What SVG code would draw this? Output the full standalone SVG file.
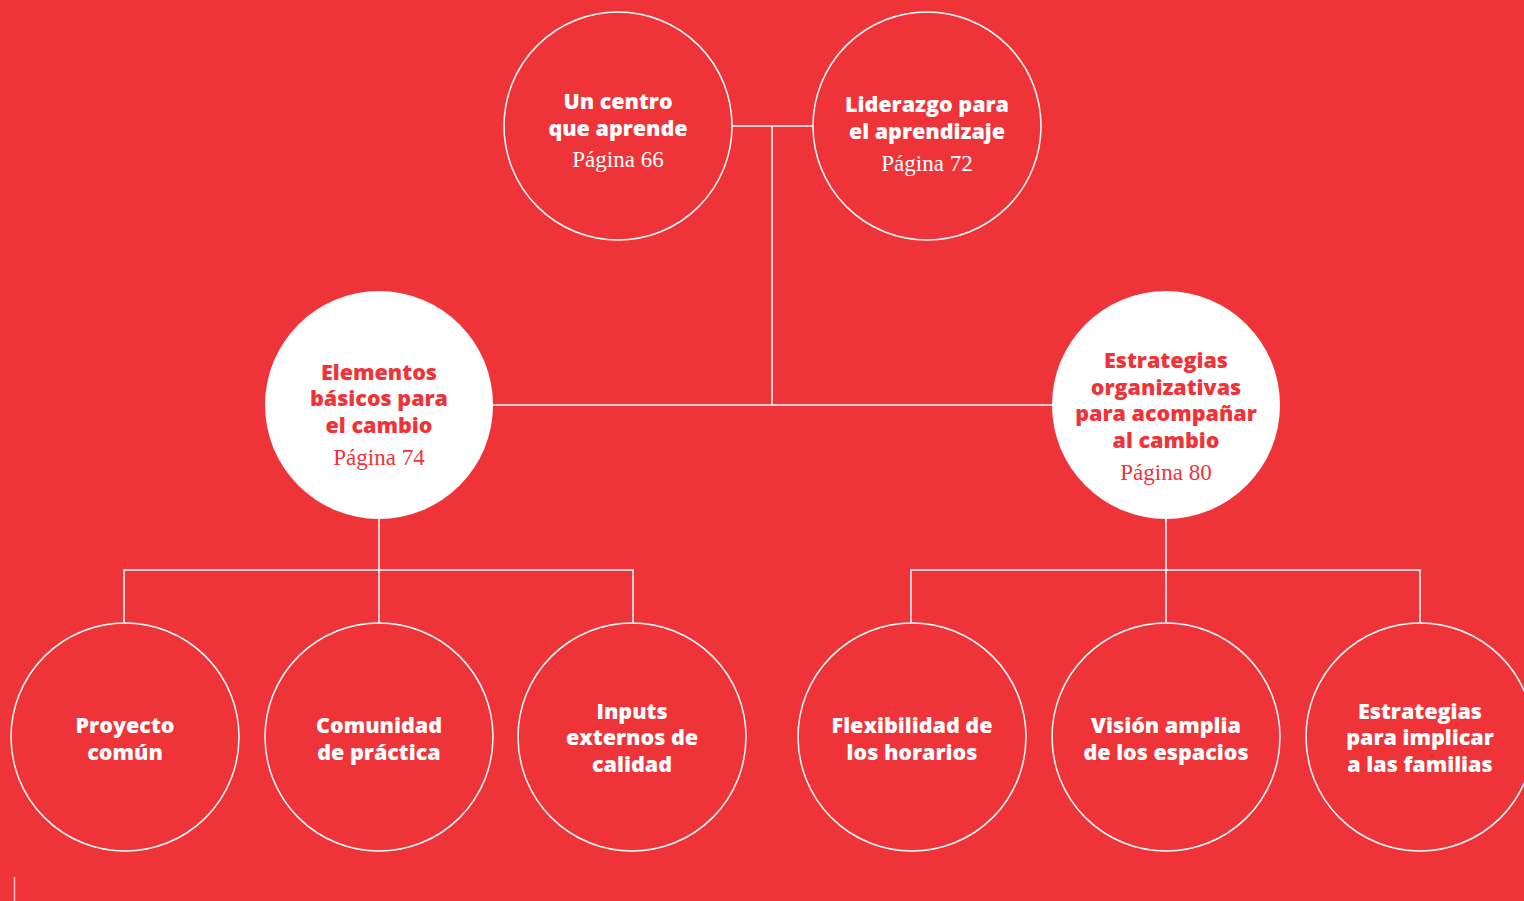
<svg xmlns="http://www.w3.org/2000/svg" width="1524" height="901" viewBox="0 0 1524 901">
<style>
.bg{fill:#EF3439}
.c{fill:none;stroke:#fff;stroke-width:1.5}
.cf{fill:#fff;stroke:none}
.ln{fill:none;stroke:#fff;stroke-width:1.5}
.t{font-family:"Open Sans","Liberation Sans",sans-serif;font-weight:800;font-size:21.5px;text-anchor:middle;fill:#fff}
.p{font-family:"Liberation Serif",serif;font-size:23px;text-anchor:middle;fill:#fff}
.r{fill:#EF3439}
</style>
<rect class="bg" x="0" y="0" width="1524" height="901"/>
<g id="connectors">
<polyline class="ln" points="732,126 813,126"/>
<polyline class="ln" points="772,126 772,405"/>
<polyline class="ln" points="493,405 1052,405"/>
<polyline class="ln" points="379,519 379,622"/>
<polyline class="ln" points="124,622 124,570 633,570 633,622"/>
<polyline class="ln" points="1166,519 1166,622"/>
<polyline class="ln" points="911,622 911,570 1420,570 1420,622"/>
</g>
<g id="n-centro">
<circle class="c" cx="618" cy="126" r="114"/>
<text class="t" x="618" y="109">Un centro</text>
<text class="t" x="618" y="136">que aprende</text>
<text class="p" x="618" y="167">Página 66</text>
</g>
<g id="n-liderazgo">
<circle class="c" cx="927" cy="126" r="114"/>
<text class="t" x="927" y="112">Liderazgo para</text>
<text class="t" x="927" y="139">el aprendizaje</text>
<text class="p" x="927" y="171">Página 72</text>
</g>
<g id="n-elementos">
<circle class="cf" cx="379" cy="405" r="114"/>
<text class="t r" x="379" y="380">Elementos</text>
<text class="t r" x="379" y="406">básicos para</text>
<text class="t r" x="379" y="433">el cambio</text>
<text class="p r" x="379" y="465">Página 74</text>
</g>
<g id="n-estrategias">
<circle class="cf" cx="1166" cy="405" r="114"/>
<text class="t r" x="1166" y="368">Estrategias</text>
<text class="t r" x="1166" y="395">organizativas</text>
<text class="t r" x="1166" y="421">para acompañar</text>
<text class="t r" x="1166" y="448">al cambio</text>
<text class="p r" x="1166" y="480">Página 80</text>
</g>
<g id="n-proyecto">
<circle class="c" cx="125" cy="737" r="114"/>
<text class="t" x="125" y="733">Proyecto</text>
<text class="t" x="125" y="760">común</text>
</g>
<g id="n-comunidad">
<circle class="c" cx="379" cy="737" r="114"/>
<text class="t" x="379" y="733">Comunidad</text>
<text class="t" x="379" y="760">de práctica</text>
</g>
<g id="n-inputs">
<circle class="c" cx="632" cy="737" r="114"/>
<text class="t" x="632" y="719">Inputs</text>
<text class="t" x="632" y="745">externos de</text>
<text class="t" x="632" y="772">calidad</text>
</g>
<g id="n-flexibilidad">
<circle class="c" cx="912" cy="737" r="114"/>
<text class="t" x="912" y="733">Flexibilidad de</text>
<text class="t" x="912" y="760">los horarios</text>
</g>
<g id="n-vision">
<circle class="c" cx="1166" cy="737" r="114"/>
<text class="t" x="1166" y="733">Visión amplia</text>
<text class="t" x="1166" y="760">de los espacios</text>
</g>
<g id="n-familias">
<circle class="c" cx="1420" cy="737" r="114"/>
<text class="t" x="1420" y="719">Estrategias</text>
<text class="t" x="1420" y="745">para implicar</text>
<text class="t" x="1420" y="772">a las familias</text>
</g>
<line x1="14.5" y1="877" x2="14.5" y2="901" stroke="#fff" stroke-opacity="0.7" stroke-width="1.5"/>
</svg>
